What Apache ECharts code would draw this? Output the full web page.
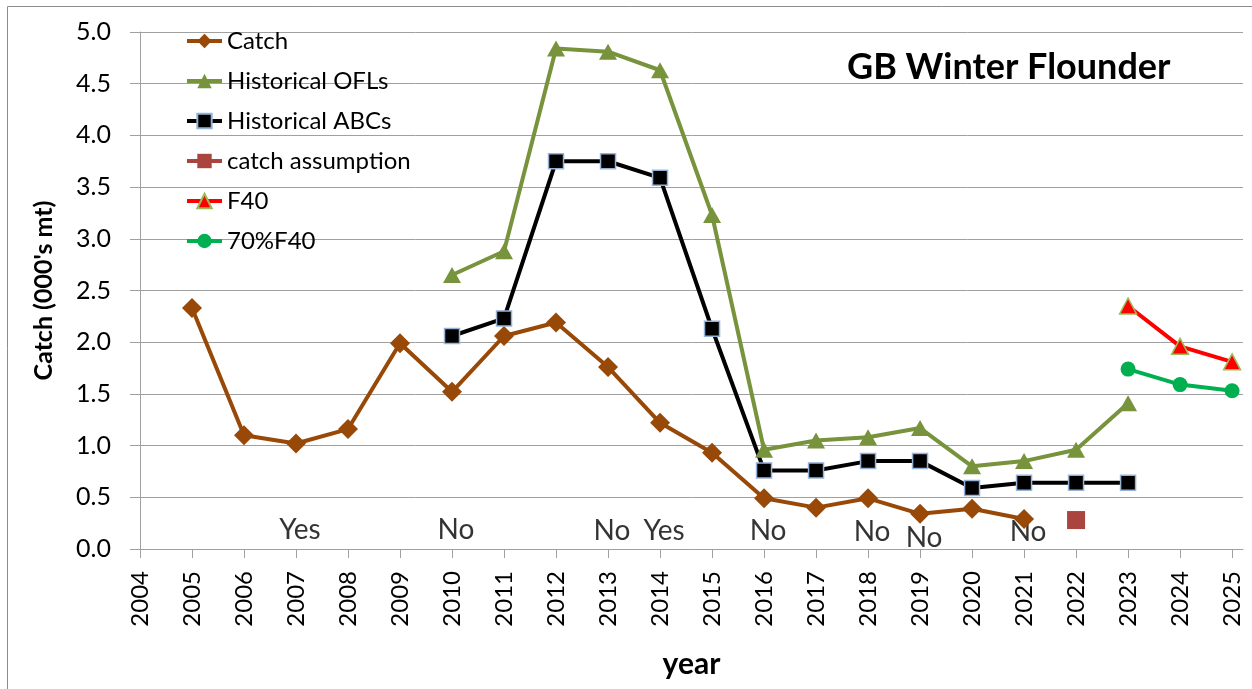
<!DOCTYPE html>
<html>
<head>
<meta charset="utf-8"/>
<title>GB Winter Flounder</title>
<script src="https://cdn.jsdelivr.net/npm/echarts@6/dist/echarts.min.js"></script>
<style>
    html, body { margin: 0; padding: 0; background: #fff; }
    #chart { width: 1252px; height: 689px; }
</style>
</head>
<body>
<div id="chart"></div>
<script>
    // data (000's mt)
    var years = [2004, 2005, 2006, 2007, 2008, 2009, 2010, 2011, 2012, 2013, 2014,
                 2015, 2016, 2017, 2018, 2019, 2020, 2021, 2022, 2023, 2024, 2025];
    var catchVals = [null, 2.33, 1.10, 1.02, 1.16, 1.99, 1.52, 2.06, 2.19, 1.76, 1.22,
                     0.93, 0.49, 0.40, 0.49, 0.34, 0.39, 0.29, null, null, null, null];
    var oflVals = [null, null, null, null, null, null, 2.65, 2.88, 4.84, 4.81, 4.63,
                   3.23, 0.96, 1.05, 1.08, 1.17, 0.80, 0.85, 0.96, 1.41, null, null];
    var abcVals = [null, null, null, null, null, null, 2.06, 2.23, 3.75, 3.75, 3.59,
                   2.13, 0.76, 0.76, 0.85, 0.85, 0.59, 0.64, 0.64, 0.64, null, null];
    var assumptionVals = [null, null, null, null, null, null, null, null, null, null, null,
                          null, null, null, null, null, null, null, 0.28, null, null, null];
    var f40Vals = [null, null, null, null, null, null, null, null, null, null, null,
                   null, null, null, null, null, null, null, null, 2.35, 1.96, 1.81];
    var f40pctVals = [null, null, null, null, null, null, null, null, null, null, null,
                      null, null, null, null, null, null, null, null, 1.74, 1.59, 1.53];

    // Yes / No notes along the bottom
    var noteYears = [2007, 2010, 2013, 2014, 2016, 2018, 2019, 2021];
    var noteText = ['Yes', 'No', 'No', 'Yes', 'No', 'No', 'No', 'No'];
    var noteY = [0.18, 0.18, 0.17, 0.17, 0.17, 0.16, 0.11, 0.16];

    var FONT = 'Lato, "Open Sans", sans-serif';
    var GRID = '#a0a0a0';

    var pairs = function (vals) {
        var out = [];
        for (var i = 0; i < years.length; i++) {
            if (vals[i] !== null) out.push([years[i], vals[i]]);
        }
        return out;
    };

    var notes = [];
    for (var i = 0; i < noteYears.length; i++) {
        notes.push({value: [noteYears[i], noteY[i]], text: noteText[i]});
    }

    // legend entry with a thick line like the original
    var legendItem = function (name) {
        return {name: name, lineStyle: {width: 4}};
    };

    var chart = echarts.init(document.getElementById('chart'));
    var option = {
        animation: false,
        textStyle: {fontFamily: FONT},
        grid: {left: 140, right: 9, top: 32, bottom: 140, containLabel: false},
        title: {
            text: 'GB Winter Flounder',
            left: 842, top: 44,
            textStyle: {fontFamily: FONT, fontSize: 36, fontWeight: 'bold', color: '#000'}
        },
        legend: {
            orient: 'vertical',
            left: 180, top: 24,
            itemWidth: 35, itemHeight: 18, itemGap: 16,
            textStyle: {fontFamily: FONT, fontSize: 24, color: '#000'},
            data: ['Catch', 'Historical OFLs', 'Historical ABCs', 'catch assumption', 'F40', '70%F40'].map(legendItem)
        },
        xAxis: {
            type: 'value',
            min: 2004, max: 2025.21,
            name: 'year', nameLocation: 'middle', nameGap: 100,
            nameTextStyle: {fontFamily: FONT, fontSize: 30, fontWeight: 'bold', color: '#000'},
            axisLine: {show: true, lineStyle: {color: GRID, width: 1}},
            axisTick: {show: true, length: 9, customValues: years, lineStyle: {color: GRID}},
            axisLabel: {
                customValues: years, rotate: 90, margin: 22,
                fontFamily: FONT, fontSize: 24, color: '#000',
                formatter: function (v) { return String(v); }
            },
            splitLine: {show: false}
        },
        yAxis: {
            type: 'value',
            min: 0, max: 5, interval: 0.5,
            name: "Catch (000's mt)", nameLocation: 'middle', nameGap: 84, nameRotate: 90,
            nameTextStyle: {fontFamily: FONT, fontSize: 25, fontWeight: 'bold', color: '#000'},
            axisLine: {show: true, lineStyle: {color: GRID, width: 1}},
            axisTick: {show: true, length: 10, lineStyle: {color: GRID}},
            axisLabel: {
                margin: 29, fontFamily: FONT, fontSize: 25, color: '#000',
                formatter: function (v) { return v.toFixed(1); }
            },
            splitLine: {show: true, lineStyle: {color: GRID, width: 1}}
        },
        series: [
            {
                name: 'Catch', type: 'line', data: pairs(catchVals),
                symbol: 'diamond', symbolSize: 20,
                lineStyle: {color: '#984807', width: 4},
                itemStyle: {color: '#984807'}
            },
            {
                name: 'Historical OFLs', type: 'line', data: pairs(oflVals),
                symbol: 'triangle', symbolSize: [18, 16],
                lineStyle: {color: '#77933C', width: 4},
                itemStyle: {color: '#77933C'}
            },
            {
                name: 'Historical ABCs', type: 'line', data: pairs(abcVals),
                symbol: 'rect', symbolSize: 15,
                lineStyle: {color: '#000', width: 4},
                itemStyle: {color: '#000', borderColor: '#95B3D7', borderWidth: 1.5}
            },
            {
                name: 'catch assumption', type: 'line', data: pairs(assumptionVals),
                symbol: 'rect', symbolSize: 18,
                lineStyle: {color: '#A9443F', width: 4},
                itemStyle: {color: '#A9443F'}
            },
            {
                name: 'F40', type: 'line', data: pairs(f40Vals),
                symbol: 'triangle', symbolSize: [17, 16],
                lineStyle: {color: '#FF0000', width: 4},
                itemStyle: {color: '#FF0000', borderColor: '#9BBB59', borderWidth: 1.5}
            },
            {
                name: '70%F40', type: 'line', data: pairs(f40pctVals),
                symbol: 'circle', symbolSize: 15,
                lineStyle: {color: '#00B050', width: 4},
                itemStyle: {color: '#00B050'}
            },
            {
                name: 'notes', type: 'scatter', data: notes,
                symbolSize: 0, silent: true,
                label: {
                    show: true, position: 'inside', offset: [4, 0],
                    fontFamily: FONT, fontSize: 28, color: '#000',
                    textBorderWidth: 0,
                    formatter: function (p) { return p.data.text; }
                }
            }
        ],
        graphic: [{
            type: 'rect', silent: true,
            shape: {x: 7.5, y: 6.5, width: 1270, height: 720},
            style: {fill: null, stroke: '#8c8c8c', lineWidth: 1}
        }]
    };
    chart.setOption(option);
</script>
</body>
</html>
